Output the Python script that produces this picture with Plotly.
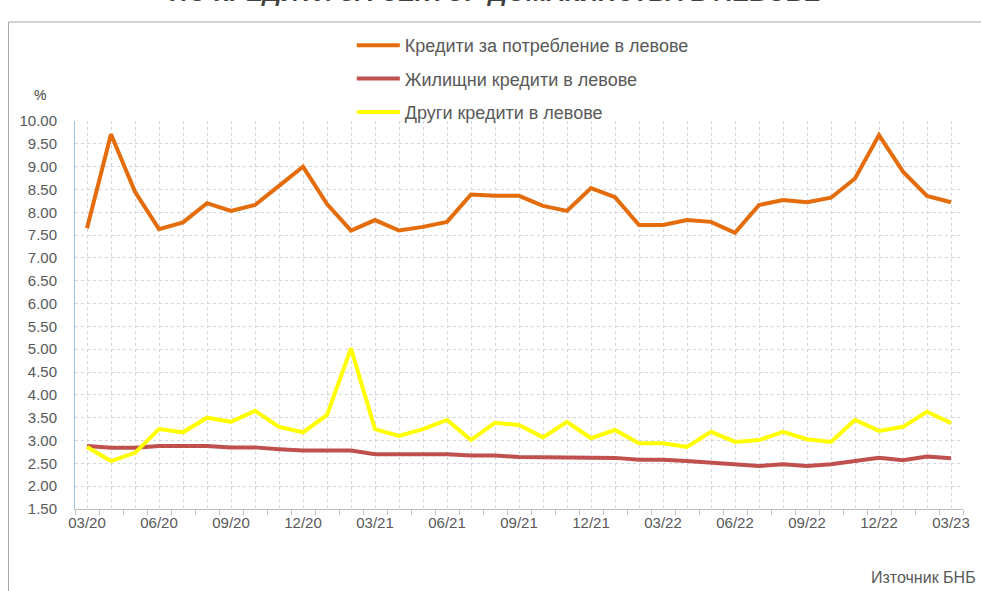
import plotly.graph_objects as go

months = ["03/20","04/20","05/20","06/20","07/20","08/20","09/20","10/20","11/20","12/20",
          "01/21","02/21","03/21","04/21","05/21","06/21","07/21","08/21","09/21","10/21",
          "11/21","12/21","01/22","02/22","03/22","04/22","05/22","06/22","07/22","08/22",
          "09/22","10/22","11/22","12/22","01/23","02/23","03/23"]

consumer = [7.65, 9.71, 8.45, 7.63, 7.78, 8.20, 8.03, 8.16, 8.58, 9.00,
            8.18, 7.60, 7.83, 7.60, 7.68, 7.79, 8.39, 8.36, 8.36, 8.14,
            8.03, 8.53, 8.33, 7.72, 7.72, 7.83, 7.79, 7.55, 8.16, 8.27,
            8.22, 8.32, 8.74, 9.69, 8.89, 8.36, 8.22]

housing = [2.88, 2.84, 2.84, 2.88, 2.88, 2.88, 2.85, 2.85, 2.81, 2.78,
           2.78, 2.78, 2.70, 2.70, 2.70, 2.70, 2.67, 2.67, 2.64, 2.64,
           2.62, 2.62, 2.62, 2.58, 2.58, 2.55, 2.51, 2.48, 2.44, 2.48,
           2.44, 2.48, 2.55, 2.62, 2.57, 2.65, 2.61]

other = [2.86, 2.55, 2.73, 3.25, 3.18, 3.50, 3.41, 3.65, 3.30, 3.18,
         3.56, 5.02, 3.25, 3.10, 3.25, 3.45, 3.01, 3.39, 3.34, 3.07,
         3.41, 3.05, 3.23, 2.94, 2.94, 2.86, 3.19, 2.97, 3.01, 3.19,
         3.03, 2.97, 3.45, 3.21, 3.30, 3.63, 3.38]

series_names = ["Кредити за потребление в левове",
                "Жилищни кредити в левове",
                "Други кредити в левове"]
series_colors = ["#E46C0A", "#C0504D", "#FFFF00"]

x = list(range(len(months)))
tick_text = [m if i % 3 == 0 else "" for i, m in enumerate(months)]

FONT = "Liberation Sans, Arial, sans-serif"

fig = go.Figure()
for i, (name, ys, col) in enumerate(zip(series_names, [consumer, housing, other], series_colors)):
    fig.add_trace(go.Scatter(x=x, y=ys, mode="lines", name=name,
                             line=dict(color=col, width=4),
                             legendgroup=f"g{i}"))

L, R, T, B = 75, 11, 121, 82
W, H = 981, 591
pw = W - L - R
ph = H - T - B

def px_x(p):
    return (p - L) / pw

def px_y(p):
    return (H - B - p) / ph

fig.update_layout(
    width=W, height=H,
    margin=dict(l=L, r=R, t=T, b=B),
    paper_bgcolor="white", plot_bgcolor="white",
    font=dict(family=FONT, size=15, color="#595959"),
    showlegend=True,
    legend=dict(x=px_x(354), y=px_y(27), xanchor="left", yanchor="top",
                bgcolor="rgba(0,0,0,0)", itemwidth=43, tracegroupgap=7,
                font=dict(size=18, color="#595959"),
                traceorder="grouped"),
    xaxis=dict(range=[-0.5, 36.5], tickmode="array", tickvals=x, ticktext=tick_text,
               showgrid=True, gridcolor="#D4D4E0", griddash="dot", gridwidth=1,
               ticks="", showline=True, linecolor="#BFBFBF", linewidth=1,
               tickfont=dict(size=15, color="#595959", family=FONT),
               minor=dict(ticks="outside", tick0=-0.5, dtick=1, ticklen=5,
                          tickcolor="#BFBFBF", showgrid=False),
               zeroline=False),
    yaxis=dict(range=[1.5, 10.0], dtick=0.5, tick0=1.5, tickformat=".2f",
               showgrid=True, gridcolor="#D4D4E0", griddash="dot", gridwidth=1,
               showline=True, linecolor="#9DC3E6", linewidth=1, ticks="",
               ticklabelstandoff=14,
               tickfont=dict(size=15, color="#595959", family=FONT),
               zeroline=False),
    shapes=[dict(type="rect", xref="paper", yref="paper",
                 x0=px_x(8), x1=px_x(W + 20), y0=px_y(H + 20), y1=px_y(22),
                 line=dict(color="#A6A6A6", width=1), fillcolor="rgba(0,0,0,0)",
                 layer="below")],
    annotations=[
        dict(text="<b><i>ПО КРЕДИТИ ЗА СЕКТОР ДОМАКИНСТВА В ЛЕВОВЕ</i></b>",
             xref="paper", yref="paper", x=px_x(500), y=px_y(-8),
             xanchor="center", yanchor="middle", showarrow=False,
             font=dict(size=25, color="#404040", family=FONT)),
        dict(text="%", xref="paper", yref="paper", x=px_x(40), y=px_y(95),
             xanchor="center", yanchor="middle", showarrow=False,
             font=dict(size=14, color="#404040", family=FONT)),
        dict(text="Източник БНБ", xref="paper", yref="paper", x=px_x(985), y=px_y(577),
             xanchor="right", yanchor="middle", showarrow=False,
             font=dict(size=16, color="#595959", family=FONT)),
    ],
)

fig.write_html("out.html", config={"displayModeBar": False},
               post_script="document.body.style.margin='0';document.body.style.overflow='hidden';")
